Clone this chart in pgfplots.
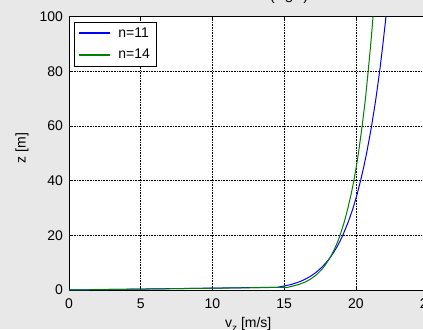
\documentclass[border=0pt]{standalone}
\usepackage{fontspec}
\setmainfont{Liberation Sans}
\usepackage{pgfplots}
\pgfplotsset{compat=1.18}
\definecolor{bg}{RGB}{232,232,232}
\definecolor{mgreen}{RGB}{0,128,0}
\definecolor{mblue}{RGB}{0,0,255}
\begin{document}
\begin{tikzpicture}[x=1pt,y=1pt]
\fill[bg] (0,0) rectangle (317.25,246.75);
\begin{scope}
\clip (0,0) rectangle (317.25,246.75);
\begin{axis}[
  at={(51.75pt,29.25pt)}, anchor=south west,
  scale only axis, width=268.9pt, height=205pt,
  xmin=0, xmax=25, ymin=0, ymax=100,
  xtick={0,5,10,15,20,25}, ytick={0,20,40,60,80,100},
  grid=major,
  major grid style={black, line width=0.5pt, dash pattern=on 0.6pt off 0.6pt},
  axis line style={black, line width=0.7pt},
  tick style={black, line width=0.5pt},
  tick align=inside, major tick length=3pt,
  /pgf/number format/assume math mode=true,
  tick label style={font=\fontsize{10.5}{12}\selectfont},
  xticklabel style={anchor=base, yshift=-13.5pt},
  yticklabel style={anchor=east, xshift=-1pt},
  axis background/.style={fill=white},
  xlabel={v\raisebox{-3pt}{\fontsize{7.5}{8}\selectfont z} [m/s]},
  xlabel style={at={(rel axis cs:0.5,0)}, anchor=base, yshift=-27.75pt, font=\fontsize{10.5}{12}\selectfont},
  ylabel={z [m]},
  ylabel style={at={(rel axis cs:-0.131,0.52)}, anchor=center, font=\fontsize{10.5}{12}\selectfont},
  legend style={at={(0.013,0.981)}, anchor=north west, line width=0.6pt,
    font=\fontsize{10.5}{12}\selectfont, inner xsep=3.5pt, inner ysep=2.5pt,
    nodes={inner sep=1.5pt}, row sep=4.5pt, column sep=4.5pt},
  legend cell align=left,
]
\addplot[mblue, line width=0.75pt,
  legend image code/.code={\fill[fill=mblue] (0pt,-0.375pt) rectangle (23pt,0.375pt);}] coordinates {
(0,0) (14.54,1) (15.49,2) (16.07,3) (16.49,4) (16.83,5) (17.11,6) (17.35,7) (17.56,8) (17.75,9)
(17.93,10) (18.23,12) (18.48,14) (18.71,16) (18.91,18) (19.09,20) (19.48,25) (19.81,30)
(20.09,35) (20.33,40) (20.55,45) (20.75,50) (21.10,60) (21.40,70) (21.66,80) (21.89,90) (22.10,100)
};
\addlegendentry{n=11}
\addplot[mgreen, line width=0.75pt,
  legend image code/.code={\fill[fill=mgreen] (0pt,-0.375pt) rectangle (23pt,0.375pt);}] coordinates {
(0,0) (15.26,1) (16.03,2) (16.50,3) (16.85,4) (17.12,5) (17.34,6) (17.53,7) (17.70,8) (17.85,9)
(17.98,10) (18.22,12) (18.42,14) (18.60,16) (18.76,18) (18.90,20) (19.20,25) (19.45,30)
(19.67,35) (19.86,40) (20.03,45) (20.18,50) (20.44,60) (20.67,70) (20.86,80) (21.04,90) (21.20,100)
};
\addlegendentry{n=14}
\end{axis}
\node[anchor=base, inner sep=0pt, font=\fontsize{11}{13}\selectfont] at (216.75,246.5)
  {(\hspace{8pt}\raisebox{-2pt}{s}\hspace{8pt})};
\end{scope}
\pgfresetboundingbox
\useasboundingbox (0,0) rectangle (317.25,246.75);
\end{tikzpicture}
\end{document}
